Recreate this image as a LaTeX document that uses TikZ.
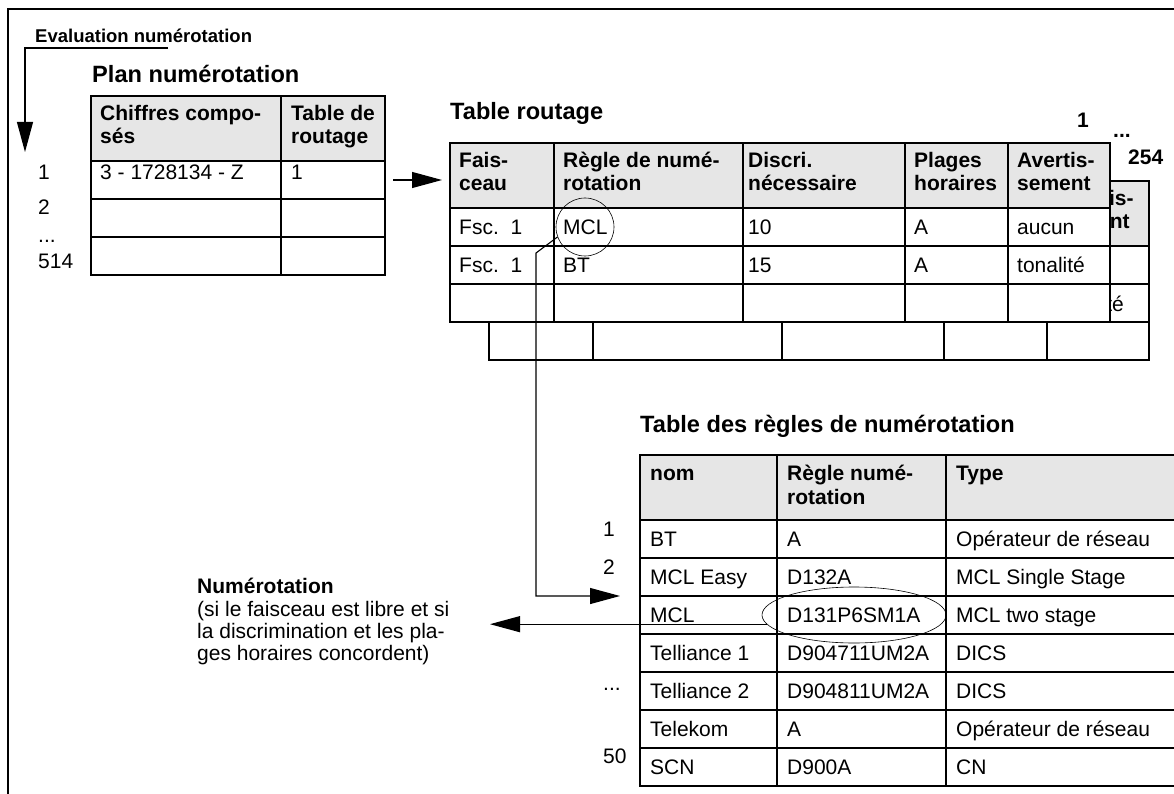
\documentclass[tikz,border=0pt]{standalone}
\usepackage{fontspec}
\setmainfont{Liberation Sans}
\usepackage{tikz}
\usetikzlibrary{arrows.meta,shapes.geometric}
\definecolor{hdrgray}{RGB}{230,230,230}
\newcommand{\txtfont}{\fontsize{21}{22}\selectfont}
\newcommand{\ttlfont}{\fontsize{23.6}{26}\selectfont\bfseries}
\newcommand{\evalfont}{\fontsize{18.5}{20}\selectfont\bfseries}
\tikzstyle{arrow} = [line width=1.1pt,-{Triangle[length=30pt,width=16pt]}]
\tikzstyle{tabline} = [line width=1.1pt]
\tikzstyle{celltxt} = [anchor=base west,inner sep=0pt,font=\txtfont]
\tikzstyle{hdrtxt} = [celltxt,font=\txtfont\bfseries]
\tikzstyle{tabtitle} = [anchor=base west,inner sep=0pt,font=\ttlfont]
\tikzstyle{ring} = [draw,line width=0.6pt,inner sep=0pt]

% grid of one routing table, origin at its top left corner
\newcommand{\routgrid}{%
  \fill[white] (0,0) rectangle (660,179);
  \fill[hdrgray] (0,0) rectangle (660,65);
  \draw[tabline] (0,0) rectangle (660,179);
  \foreach \y in {65,103,141} \draw[tabline] (0,\y) -- (660,\y);
  \foreach \x in {104,293,455,558} \draw[tabline] (\x,0) -- (\x,179);
}

\begin{document}
\begin{tikzpicture}[x=1pt,y=-1pt]
\useasboundingbox (0,0) rectangle (1174,794);

% Frame
\draw[line width=1.3pt] (1174,9) -- (8,9) -- (8,794);

% Evaluation
\node[anchor=base west,inner sep=0pt,font=\evalfont] (evaltxt) at (35,43) {Evaluation numérotation};
\coordinate (evalstart) at (168,48);
\coordinate (planin) at (25,152);
\draw[arrow] (evalstart) -| (planin);

% Plan numerotation
\node[tabtitle] (plantitle) at (92,83) {Plan numérotation};
\fill[hdrgray] (91,96) rectangle (385,161);
\draw[tabline] (91,96) rectangle (385,275);
\foreach \y in {161,199,237} \draw[tabline] (91,\y) -- (385,\y);
\draw[tabline] (281,96) -- (281,275);
\node[hdrtxt] (ph1a) at (100,121) {Chiffres compo-};
\node[hdrtxt] (ph1b) at (100,144) {sés};
\node[hdrtxt] (ph2a) at (291,121) {Table de};
\node[hdrtxt] (ph2b) at (291,144) {routage};
\node[celltxt] (pr1a) at (100,180) {3 - 1728134 - Z};
\node[celltxt] (pr1b) at (291,180) {1};
\node[celltxt] (pn1) at (38,180) {1};
\node[celltxt] (pn2) at (38,215) {2};
\node[celltxt] (pndots) at (38,243) {...};
\node[celltxt] (pnlast) at (38,269) {514};

\coordinate (planout) at (393,180);
\coordinate (routin) at (442,180);
\draw[arrow] (planout) -- (routin);

% Routing tables, 1 ... 254
\node[tabtitle] (routtitle) at (450,120) {Table routage};
\begin{scope}[shift={(489,181)}]
  \routgrid
  \node[hdrtxt] (bh5a) at (567,25) {Avertis-};
  \node[hdrtxt] (bh5b) at (567,48) {sement};
  \node[celltxt] (br2w) at (567,130) {tonalité};
\end{scope}
\begin{scope}[shift={(450,143)}]
  \routgrid
  \foreach \x/\a/\b [count=\i] in {9/Fais-/ceau, 113/Règle de numé-/rotation,
      298/Discri./nécessaire, 464/Plages/horaires, 567/Avertis-/sement} {
    \node[hdrtxt] (fh\i a) at (\x,25) {\a};
    \node[hdrtxt] (fh\i b) at (\x,48) {\b};
  }
  \foreach \y/\f/\r/\d/\p/\w [count=\i] in {91/Fsc.~~1/MCL/10/A/aucun,
      129/Fsc.~~1/BT/15/A/tonalité} {
    \node[celltxt] (fr\i f) at (9,\y) {\f};
    \node[celltxt] (fr\i r) at (113,\y) {\r};
    \node[celltxt] (fr\i d) at (298,\y) {\d};
    \node[celltxt] (fr\i p) at (464,\y) {\p};
    \node[celltxt] (fr\i w) at (567,\y) {\w};
  }
\end{scope}
\node[hdrtxt] (rtfirst) at (1077,128) {1};
\node[hdrtxt] (rtdots) at (1113,138) {...};
\node[hdrtxt] (rtlast) at (1128,165) {254};

\node[ring,circle,minimum size=58pt] (mclcirc) at (585,227) {};

% Numbering rules
\node[tabtitle] (ruletitle) at (640,432) {Table des règles de numérotation};
\fill[hdrgray] (640,455) rectangle (1174,520);
\draw[tabline] (1174,455) -- (640,455) -- (640,786) -- (1174,786);
\foreach \y in {520,558,...,748} \draw[tabline] (640,\y) -- (1174,\y);
\foreach \x in {777,946} \draw[tabline] (\x,455) -- (\x,786);
\node[hdrtxt] (rh1) at (650,480) {nom};
\node[hdrtxt] (rh2a) at (787,480) {Règle numé-};
\node[hdrtxt] (rh2b) at (787,504) {rotation};
\node[hdrtxt] (rh3) at (956,480) {Type};
\foreach \n/\r/\t [count=\i from 0] in {BT/A/Opérateur de réseau,
    MCL Easy/D132A/MCL Single Stage, MCL/D131P6SM1A/MCL two stage,
    Telliance 1/D904711UM2A/DICS, Telliance 2/D904811UM2A/DICS,
    Telekom/A/Opérateur de réseau, SCN/D900A/CN} {
  \node[celltxt] (rn\i) at (650,546+38*\i) {\n};
  \node[celltxt] (rr\i) at (787,546+38*\i) {\r};
  \node[celltxt] (rt\i) at (956,546+38*\i) {\t};
}
\node[celltxt] (rnum1) at (603,536) {1};
\node[celltxt] (rnum2) at (603,574) {2};
\node[celltxt] (rnumdots) at (603,690) {...};
\node[celltxt] (rnumlast) at (603,763) {50};

\node[ring,ellipse,minimum width=184pt,minimum height=56pt] (ruleell) at (854,615) {};

% Arrows
\coordinate (mclbend) at (536,253);
\coordinate (rulein) at (620,596);
\draw[arrow] (mclcirc.200) -- (mclbend) |- (rulein);

\coordinate (numout) at (490,624);
\draw[arrow] (ruleell.186) -- (numout |- ruleell.186);

% Labels
\node[hdrtxt] (numtxt) at (197,593) {Numérotation};
\node[celltxt] (numl1) at (197,616) {(si le faisceau est libre et si};
\node[celltxt] (numl2) at (197,638) {la discrimination et les pla-};
\node[celltxt] (numl3) at (197,660) {ges horaires concordent)};
\end{tikzpicture}
\end{document}
